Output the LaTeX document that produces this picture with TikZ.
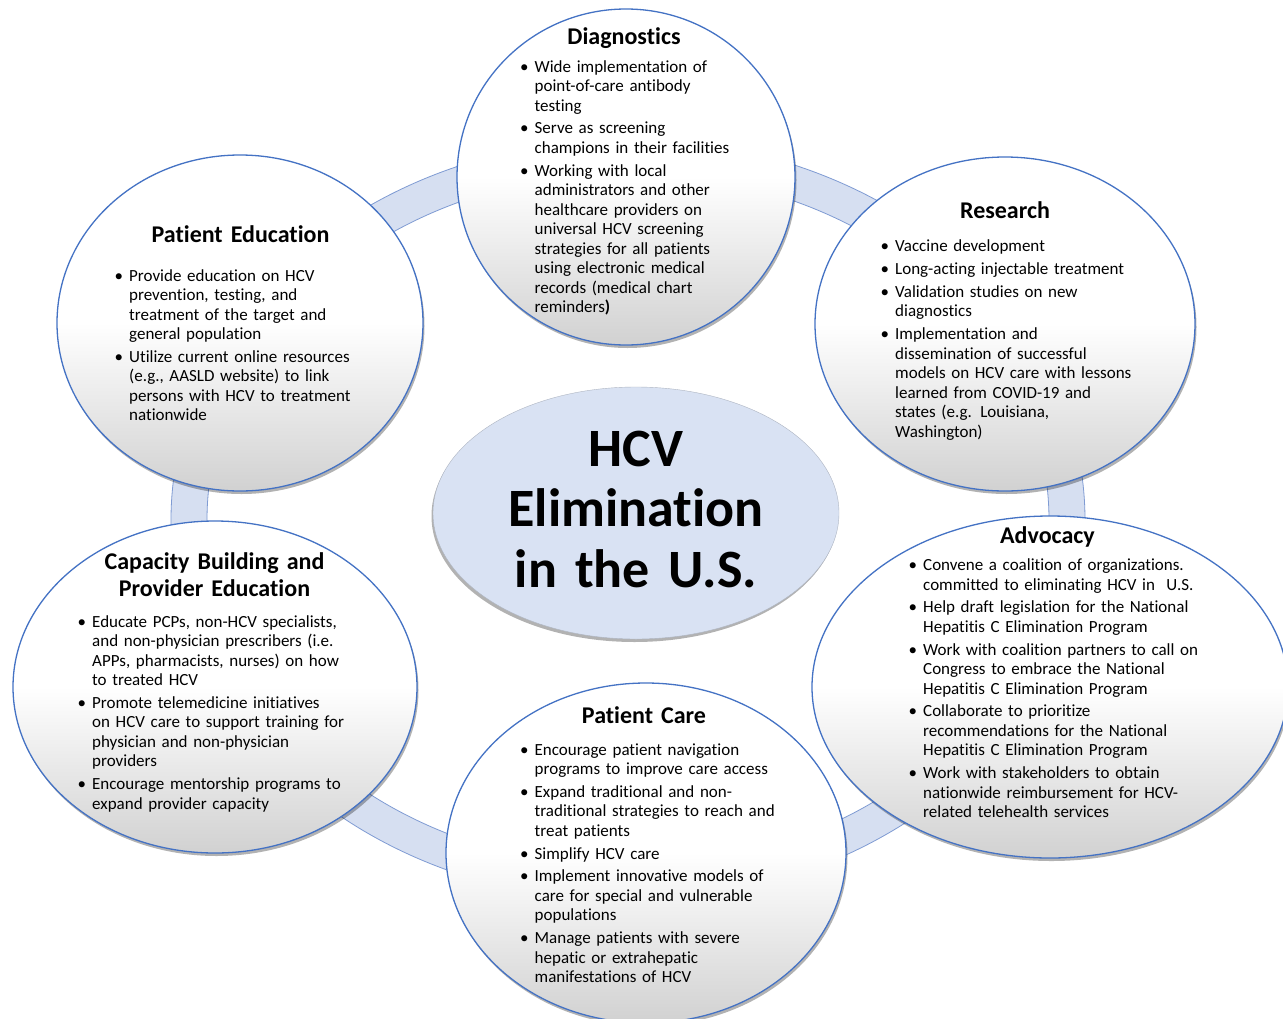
\documentclass[tikz,border=0pt]{standalone}
\usepackage{fontspec}
\setmainfont{Carlito}[Ligatures=NoCommon]
\usetikzlibrary{shapes.geometric,shadows}
\definecolor{bord}{HTML}{4472C4}
\definecolor{ringc}{HTML}{D6DFF1}
\definecolor{ringl}{HTML}{7F9BD3}
\definecolor{ctrc}{HTML}{D9E2F3}
\newcommand\nl{\hfil\break}
\newcommand\bitem[1]{\noindent\hangindent=14.5pt\hangafter=1\hbox to 14.5pt{\textbullet\hfil}#1\par}
\tikzset{
 bub/.style={shape=ellipse, draw=bord, line width=1.3pt, top color=white, bottom color=black!18, middle color=white, inner sep=0pt,
   drop shadow={shadow xshift=1.5pt, shadow yshift=-3pt, opacity=0.3, fill=black}},
 ctrbub/.style={shape=ellipse, fill=ctrc, draw=ctrc!80!black, line width=0.4pt, inner sep=0pt,
   drop shadow={shadow xshift=-1.5pt, shadow yshift=-3pt, opacity=0.3, fill=black}},
 ttl/.style={anchor=base, inner sep=0pt, text width=340pt, align=center, font=\fontsize{24}{27}\selectfont\bfseries},
 lst/.style={anchor=base west, inner sep=0pt, text width=360pt, font=\fontsize{17}{19.5}\selectfont,
   execute at begin node={\setlength\parskip{3.3pt}\setlength\parindent{0pt}}},
 big/.style={anchor=base, inner sep=0pt, text width=440pt, align=center, font=\fontsize{54}{60.5}\selectfont\bfseries},
}
\begin{document}
\begin{tikzpicture}[x=1pt,y=-1pt]
\path[use as bounding box, clip] (0,0) rectangle (1283,1018);
\fill[white] (0,0) rectangle (1283,1018);
% ring
\path[fill=ringc, even odd rule, draw=ringl, line width=0.8pt]
  (628,520) ellipse [x radius=457pt, y radius=381pt]
  (628,520) ellipse [x radius=421pt, y radius=347pt];
% bubbles
\node[ctrbub, minimum width=406pt, minimum height=252pt] (ctr) at (636,513) {};
\node[bub, minimum width=338pt, minimum height=336pt] (diag) at (626,177) {};
\node[bub, minimum width=380pt, minimum height=334pt] (res) at (1005,324) {};
\node[bub, minimum width=366pt, minimum height=336pt] (pe) at (240,323) {};
\node[bub, minimum width=404pt, minimum height=332pt] (cap) at (215,687) {};
\node[bub, minimum width=476pt, minimum height=342pt] (adv) at (1050,687) {};
\node[bub, minimum width=400pt, minimum height=340pt] (pc) at (646,853) {};
% centre text
\node[big] (ctrt) at (636,466) {HCV\\Elimination\\in the U.S.};
% titles
\node[ttl] (diagt) at (624,44) {Diagnostics};
\node[ttl] (rest) at (1005,218) {Research};
\node[ttl] (pet) at (240.5,242) {Patient Education};
\node[ttl] (capt) at (214.5,569) {Capacity Building and\\Provider Education};
\node[ttl] (advt) at (1047.5,543) {Advocacy};
\node[ttl] (pct) at (644,723) {Patient Care};
% lists
\node[lst] (diagl) at (520,72) {%
\bitem{Wide implementation of\nl point-of-care antibody\nl testing}%
\bitem{Serve as screening\nl champions in their facilities}%
\bitem{Working with local\nl administrators and other\nl healthcare providers on\nl universal HCV screening\nl strategies for all patients\nl using electronic medical\nl records (medical chart\nl reminders\textbf{)}}};
\node[lst] (resl) at (880.5,251.7) {%
\bitem{Vaccine development}%
\bitem{Long-acting injectable treatment}%
\bitem{Validation studies on new\nl diagnostics}%
\bitem{Implementation and\nl dissemination of successful\nl models on HCV care with lessons\nl learned from COVID-19 and\nl states (e.g. Louisiana,\nl Washington)}};
\node[lst] (pel) at (114.5,281) {%
\bitem{Provide education on HCV\nl prevention, testing, and\nl treatment of the target and\nl general population}%
\bitem{Utilize current online resources\nl (e.g., AASLD website) to link\nl persons with HCV to treatment\nl nationwide}};
\node[lst] (capl) at (77.5,627) {%
\bitem{Educate PCPs, non-HCV specialists,\nl and non-physician prescribers (i.e.\nl APPs, pharmacists, nurses) on how\nl to treated HCV}%
\bitem{Promote telemedicine initiatives\nl on HCV care to support training for\nl physician and non-physician\nl providers}%
\bitem{Encourage mentorship programs to\nl expand provider capacity}};
\node[lst] (advl) at (908.5,570.5) {%
\bitem{Convene a coalition of organizations.\nl committed to eliminating HCV in\ \ U.S.}%
\bitem{Help draft legislation for the National\nl Hepatitis C Elimination Program}%
\bitem{Work with coalition partners to call on\nl Congress to embrace the National\nl Hepatitis C Elimination Program}%
\bitem{Collaborate to prioritize\nl recommendations for the National\nl Hepatitis C Elimination Program}%
\bitem{Work with stakeholders to obtain\nl nationwide reimbursement for HCV-\nl related telehealth services}};
\node[lst] (pcl) at (520,755) {%
\bitem{Encourage patient navigation\nl programs to improve care access}%
\bitem{Expand traditional and non-\nl traditional strategies to reach and\nl treat patients}%
\bitem{Simplify HCV care}%
\bitem{Implement innovative models of\nl care for special and vulnerable\nl populations}%
\bitem{Manage patients with severe\nl hepatic or extrahepatic\nl manifestations of HCV}};
\end{tikzpicture}
\end{document}
